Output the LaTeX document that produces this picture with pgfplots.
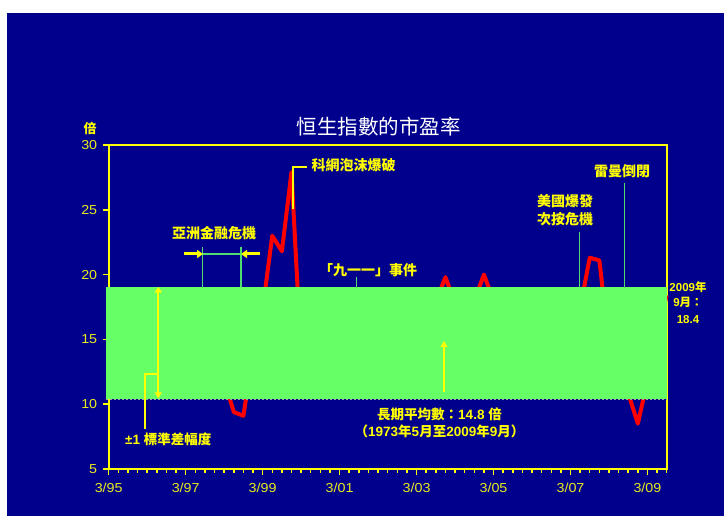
\documentclass[border=0pt]{standalone}
\usepackage{pgfplots}
\pgfplotsset{compat=1.18}
\usepackage{pgfplotstable}
\usepackage{fontspec}
\setmainfont{Liberation Sans}
\newfontfamily\tickfont{Liberation Sans}[FakeStretch=1.1]
\newfontfamily\cjk{Noto Sans CJK TC}
\usetikzlibrary{arrows.meta}
\definecolor{navy}{RGB}{0,0,140}
\definecolor{ylw}{RGB}{255,255,0}
\definecolor{tyl}{RGB}{235,235,30}
\definecolor{bandg}{RGB}{102,255,102}
\definecolor{evg}{RGB}{80,220,110}

\pgfplotstableread{
x y
1995.1667 10.6
1995.4167 11.2
1995.6667 11.5
1995.9167 11.8
1996.1667 12.3
1996.4167 12.5
1996.6667 13.0
1996.9167 14.2
1997.1667 14.0
1997.4167 16.5
1997.6667 15.5
1997.9167 12.5
1998.1667 11.9
1998.4167 9.4
1998.6667 9.1
1998.9167 13.9
1999.1667 17.3
1999.4167 23.0
1999.6667 21.8
1999.9167 27.9
2000.1667 13.8
2000.4167 15.5
2000.6667 14.8
2000.9167 13.5
2001.1667 13.0
2001.4167 14.0
2001.6667 11.5
2001.9167 12.5
2002.1667 13.5
2002.4167 12.8
2002.6667 11.2
2002.9167 11.5
2003.1667 11.0
2003.4167 13.0
2003.6667 17.9
2003.9167 19.8
2004.1667 17.8
2004.4167 16.0
2004.6667 18.0
2004.9167 20.0
2005.1667 18.0
2005.4167 15.5
2005.6667 15.0
2005.9167 14.5
2006.1667 15.0
2006.4167 14.5
2006.6667 15.5
2006.9167 16.0
2007.1667 15.5
2007.4167 17.4
2007.6667 21.3
2007.9167 21.1
2008.1667 14.6
2008.4167 12.5
2008.6667 10.85
2008.9167 8.5
2009.1667 11.8
2009.4167 15.5
2009.6667 18.4
}\hsipe

\begin{document}
\begin{tikzpicture}
\path[use as bounding box] (0pt,0pt) rectangle (724pt,516pt);
\fill[white] (0pt,0pt) rectangle (724pt,516pt);
\fill[navy] (7pt,0pt) rectangle (724pt,503pt);
\begin{axis}[
  at={(108.7pt,47pt)}, anchor=south west,
  scale only axis, width=558pt, height=324pt,
  xmin=1995.1667, xmax=2009.6667, ymin=5, ymax=30,
  axis line style={ylw, line width=2pt},
  xtick={1995.1667,1997.1667,1999.1667,2001.1667,2003.1667,2005.1667,2007.1667,2009.1667},
  xticklabels={3/95,3/97,3/99,3/01,3/03,3/05,3/07,3/09},
  minor xtick={1995.4167,1995.6667,...,2009.7},
  ytick={5,10,15,20,25,30},
  tick align=outside, tick pos=left,
  major tick length=6pt, minor tick length=4pt,
  every tick/.style={ylw, line width=1.5pt},
  /pgf/number format/assume math mode=true,
  x tick label style={font=\tickfont\fontsize{13}{13}\selectfont, text=tyl, yshift=-5pt},
  y tick label style={font=\tickfont\fontsize{13}{13}\selectfont, text=tyl, xshift=-2pt},
  clip=false,
]
\addplot[red, line width=4pt, line join=round] table[x=x,y=y] {\hsipe};
\end{axis}
\begin{scope}[x=1pt,y=1pt]
% event lines (behind band)
\draw[evg, line width=1.5pt] (202.7,268.7)--(202.7,229.3);
\draw[evg, line width=1.5pt] (241,268.7)--(241,229.3);
\draw[evg, line width=1.5pt] (202.7,262)--(241,262);
\draw[evg, line width=1.5pt] (356.7,239.3)--(356.7,229.3);
\draw[evg, line width=1.5pt] (579.3,284.3)--(579.3,229.3);
\draw[evg, line width=1.5pt] (624.3,333.3)--(624.3,229.3);
% band
\fill[bandg] (106,116.7) rectangle (666.7,229.3);
\draw[gray!70, dash pattern=on 2pt off 2pt, line width=0.6pt] (106,116.7)--(666.7,116.7);
% arrows
\draw[ylw, line width=3pt, -{Triangle[length=6pt,width=8pt]}] (184,262)--(203,262);
\draw[ylw, line width=3pt, -{Triangle[length=6pt,width=8pt]}] (260,262)--(241,262);
\draw[ylw, line width=2pt] (292.7,307)--(292.7,349.3)--(306.7,349.3);
\draw[ylw, line width=2pt, {Triangle[length=6pt,width=7pt]}-{Triangle[length=6pt,width=7pt]}] (158.3,229.3)--(158.3,117.7);
\draw[ylw, line width=1.5pt] (145,87)--(145,142)--(158.3,142);
\draw[ylw, line width=1.5pt, -{Triangle[length=6pt,width=7pt]}] (444,124)--(444,175);
% texts
\node[white, font=\cjk\fontsize{20.5}{22}\selectfont] at (378.6,389.3) {恒生指數的市盈率};
\node[ylw, font=\cjk\bfseries\fontsize{13}{14}\selectfont] at (90,388) {倍};
\node[ylw, font=\cjk\bfseries\fontsize{14}{16}\selectfont] at (214,283.3) {亞洲金融危機};
\node[ylw, font=\cjk\bfseries\fontsize{14}{16}\selectfont, anchor=west] at (308,351) {科網泡沫爆破};
\node[ylw, font=\cjk\bfseries\fontsize{14}{16}\selectfont] at (368,246) {「九一一」事件};
\node[ylw, font=\cjk\bfseries\fontsize{14}{16}\selectfont] at (565,315.3) {美國爆發};
\node[ylw, font=\cjk\bfseries\fontsize{14}{16}\selectfont] at (565,296.7) {次按危機};
\node[ylw, font=\cjk\bfseries\fontsize{14}{16}\selectfont] at (622,345.3) {雷曼倒閉};
\node[ylw, font=\bfseries\fontsize{11.5}{13}\selectfont] at (688,229.3) {2009{\cjk 年}};
\node[ylw, font=\bfseries\fontsize{11.5}{13}\selectfont] at (688,213.3) {9{\cjk 月：}};
\node[ylw, font=\bfseries\fontsize{11.5}{13}\selectfont] at (688,196) {18.4};
\node[ylw, font=\bfseries\fontsize{13.5}{16}\selectfont] at (168.3,76.7) {±1 {\cjk 標準差幅度}};
\node[ylw, font=\bfseries\fontsize{13.5}{16}\selectfont] at (439.5,102) {{\cjk 長期平均數：}14.8 {\cjk 倍}};
\node[ylw, font=\bfseries\fontsize{13.5}{16}\selectfont] at (439.5,85) {{\cjk （}1973{\cjk 年}5{\cjk 月至}2009{\cjk 年}9{\cjk 月）}};
\end{scope}
\end{tikzpicture}
\end{document}
